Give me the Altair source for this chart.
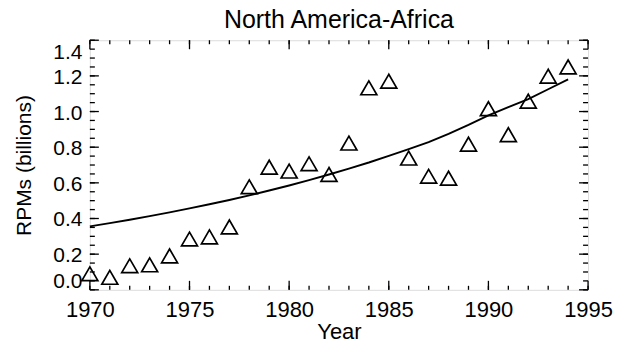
import altair as alt
import pandas as pd

# ---- data ----
years = list(range(1970, 1995))
rpms = [0.09, 0.07, 0.135, 0.14, 0.19, 0.285, 0.297, 0.353, 0.578, 0.688,
        0.666, 0.707, 0.647, 0.823, 1.133, 1.17, 0.739, 0.637, 0.626, 0.817,
        1.016, 0.87, 1.058, 1.198, 1.25]
fit = [0.356, 0.374, 0.393, 0.413, 0.434, 0.457, 0.480, 0.504, 0.530, 0.557,
       0.585, 0.615, 0.647, 0.680, 0.714, 0.751, 0.789, 0.829, 0.875, 0.925,
       0.978, 1.025, 1.070, 1.125, 1.180]

x_major_ticks = [1970, 1975, 1980, 1985, 1990, 1995]
x_minor_ticks = list(range(1970, 1996))
y_major_ticks = [0.0, 0.2, 0.4, 0.6, 0.8, 1.0, 1.2, 1.4]
y_minor_ticks = [round(i * 0.05, 2) for i in range(0, 29)]

title_text = "North America-Africa"
x_title = "Year"
y_title = "RPMs (billions)"

FONT = "Liberation Sans"
W, H = 499, 250

pts = pd.DataFrame({"year": years, "rpm": rpms})
fitdf = pd.DataFrame({"year": years, "rpm": fit})
xmaj = pd.DataFrame({"v": x_major_ticks})
xmin = pd.DataFrame({"v": x_minor_ticks})
ymaj = pd.DataFrame({"v": y_major_ticks})
ymin = pd.DataFrame({"v": y_minor_ticks})
ttl = pd.DataFrame({"t": [title_text]})

xs = alt.Scale(domain=[1970, 1995], nice=False, zero=False)
ys = alt.Scale(domain=[0, 1.4], nice=False, zero=True)

X_AX = alt.Axis(values=x_major_ticks, format="d", grid=False, ticks=False, domain=False,
                labelFontSize=22, labelFont=FONT, labelColor="black", labelPadding=10,
                title=x_title, titleFontSize=22, titleFont=FONT, titleFontWeight="normal",
                titleColor="black", titlePadding=1, labelFlush=False)
Y_AX = alt.Axis(values=y_major_ticks, format=".1f", grid=False, ticks=False, domain=False,
                labelFontSize=21, labelFont=FONT, labelColor="black", labelPadding=8,
                labelOffset=1.5, title=y_title, titleFontSize=21, titleFont=FONT,
                titleFontWeight="normal", titleColor="black", titlePadding=18,
                labelFlush=True)

points = alt.Chart(pts).mark_point(shape="triangle-up", filled=False, size=256,
                                   stroke="black", strokeWidth=1.7, opacity=1).encode(
    x=alt.X("year:Q", scale=xs, axis=X_AX),
    y=alt.Y("rpm:Q", scale=ys, axis=Y_AX),
)

curve = alt.Chart(fitdf).mark_line(color="black", strokeWidth=1.9).encode(
    x=alt.X("year:Q", scale=xs, axis=X_AX),
    y=alt.Y("rpm:Q", scale=ys, axis=Y_AX),
)

def xticks(df, length):
    bottom = alt.Chart(df).mark_rule(color="black", strokeWidth=1.3).encode(
        x=alt.X("v:Q", scale=xs, axis=X_AX),
        y=alt.value(H), y2=alt.value(H - length))
    top = alt.Chart(df).mark_rule(color="black", strokeWidth=1.3).encode(
        x=alt.X("v:Q", scale=xs, axis=X_AX),
        y=alt.value(0), y2=alt.value(length))
    return [bottom, top]

def yticks(df, length):
    left = alt.Chart(df).mark_rule(color="black", strokeWidth=1.3).encode(
        y=alt.Y("v:Q", scale=ys, axis=Y_AX),
        x=alt.value(0), x2=alt.value(length))
    right = alt.Chart(df).mark_rule(color="black", strokeWidth=1.3).encode(
        y=alt.Y("v:Q", scale=ys, axis=Y_AX),
        x=alt.value(W), x2=alt.value(W - length))
    return [left, right]

title_layer = alt.Chart(ttl).mark_text(fontSize=25, font=FONT, color="black",
                                       align="center", baseline="alphabetic").encode(
    text="t:N", x=alt.value(W / 2), y=alt.value(-12))

layers = (xticks(xmaj, 9) + xticks(xmin, 4) + yticks(ymaj, 9) + yticks(ymin, 5)
          + [curve, points, title_layer])

chart = alt.layer(*layers).properties(
    width=W, height=H,
    autosize=alt.AutoSizeParams(type="none"),
    padding={"left": 82, "top": 32, "right": 30, "bottom": 55},
).configure_view(stroke="black", strokeWidth=1.7).configure(background="white")

chart.save("out.html", embed_options={"renderer": "svg", "actions": False})
